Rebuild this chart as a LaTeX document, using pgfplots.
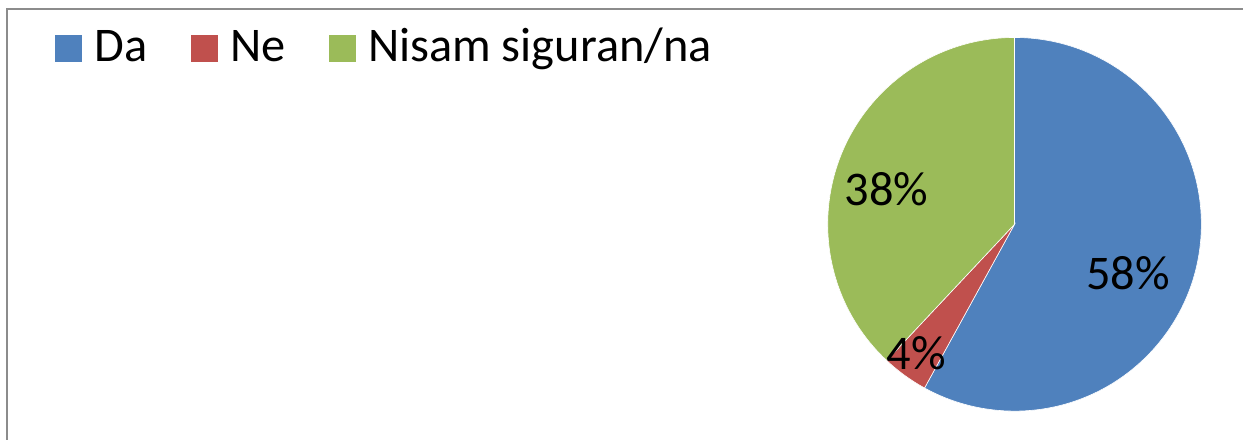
\documentclass[border=0pt]{standalone}
\usepackage{pgfplots}
\pgfplotsset{compat=1.18}
\usepackage{fontspec}
\setmainfont{Carlito}
\definecolor{cblue}{HTML}{4F81BD}
\definecolor{cred}{HTML}{C0504D}
\definecolor{cgreen}{HTML}{9BBB59}
\definecolor{cframe}{HTML}{8C8C8C}
\begin{document}
\begin{tikzpicture}
\begin{axis}[
  width=622pt, height=220pt, scale only axis,
  xmin=0, xmax=1244, ymin=0, ymax=440,
  hide axis, clip=false,
]
% bounding box
\path (axis cs:0,0) rectangle (axis cs:1244,440);
% frame
\draw[cframe, line width=1.2pt] (axis cs:7,0) -- (axis cs:7,431) -- (axis cs:1244,431);
% pie: values 58, 4, 38 (percent), starting at 90 deg, clockwise
\def\R{93.5pt}
\fill[cblue, draw=white, line width=0.3pt] (axis cs:1015.5,215.5) -- ++(90:\R) arc[start angle=90, delta angle=-3.6*58, radius=\R] -- cycle;
\fill[cred, draw=white, line width=0.3pt] (axis cs:1015.5,215.5) -- ++({90-3.6*58}:\R) arc[start angle={90-3.6*58}, delta angle=-3.6*4, radius=\R] -- cycle;
\fill[cgreen, draw=white, line width=0.3pt] (axis cs:1015.5,215.5) -- ++({90-3.6*62}:\R) arc[start angle={90-3.6*62}, delta angle=-3.6*38, radius=\R] -- cycle;
% labels
\node[anchor=base west, inner sep=0, font=\fontsize{24.2}{28}\selectfont] at (axis cs:1087,150) {58\%};
\node[anchor=base west, inner sep=0, font=\fontsize{24.2}{28}\selectfont] at (axis cs:845,234) {38\%};
\node[anchor=base west, inner sep=0, font=\fontsize{24.2}{28}\selectfont] at (axis cs:887,70) {4\%};
% legend
\fill[cblue] (axis cs:55,378) rectangle (axis cs:82,405);
\node[anchor=base west, inner sep=0, font=\fontsize{24.2}{28}\selectfont] at (axis cs:94,378) {Da};
\fill[cred] (axis cs:191,378) rectangle (axis cs:218,405);
\node[anchor=base west, inner sep=0, font=\fontsize{24.2}{28}\selectfont] at (axis cs:230,378) {Ne};
\fill[cgreen] (axis cs:329,378) rectangle (axis cs:356,405);
\node[anchor=base west, inner sep=0, font=\fontsize{24.2}{28}\selectfont] at (axis cs:368,378) {Nisam siguran/na};
\end{axis}
\end{tikzpicture}
\end{document}
